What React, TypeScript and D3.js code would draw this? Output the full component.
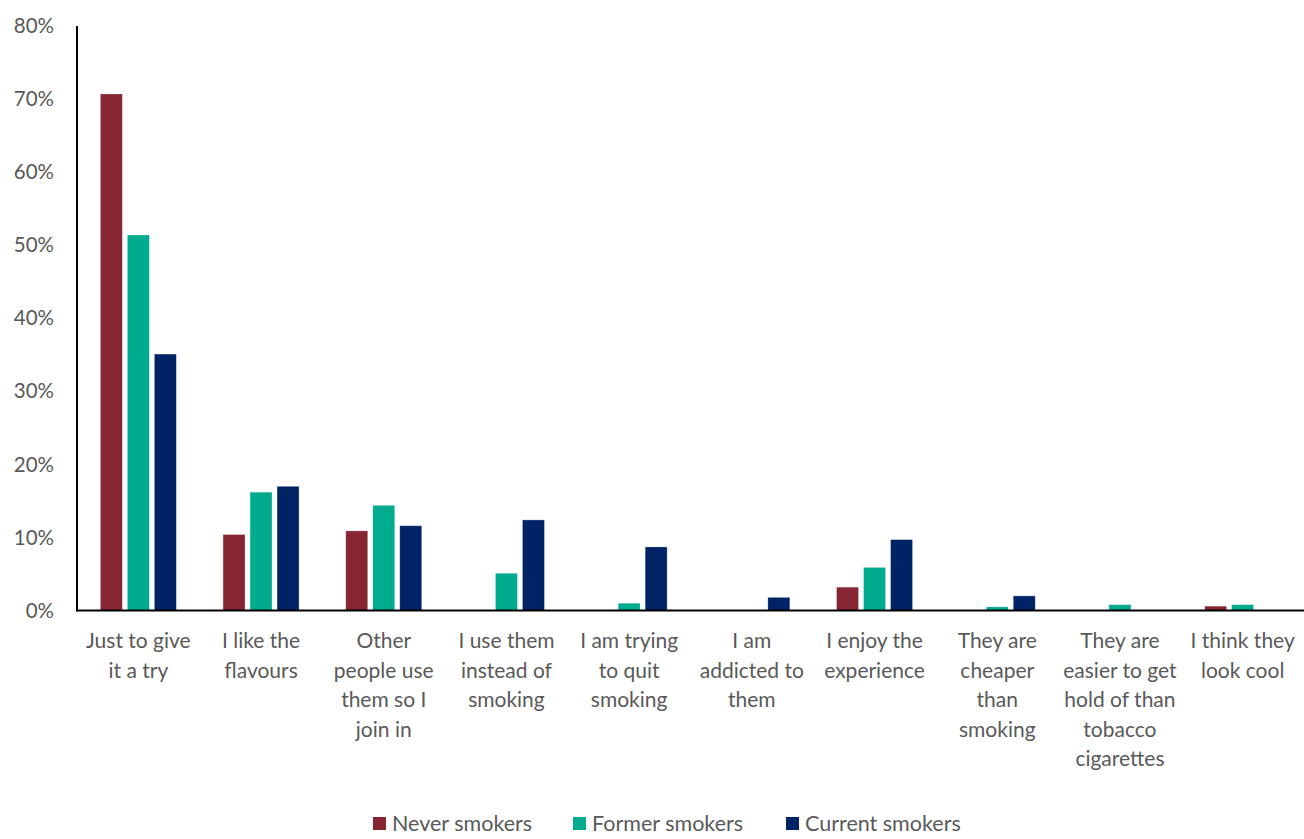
import React from "react";
import * as d3 from "d3";

const categories: string[][] = [
  ["Just to give", "it a try"],
  ["I like the", "flavours"],
  ["Other", "people use", "them so I", "join in"],
  ["I use them", "instead of", "smoking"],
  ["I am trying", "to quit", "smoking"],
  ["I am", "addicted to", "them"],
  ["I enjoy the", "experience"],
  ["They are", "cheaper", "than", "smoking"],
  ["They are", "easier to get", "hold of than", "tobacco", "cigarettes"],
  ["I think they", "look cool"],
];

const seriesNames = ["Never smokers", "Former smokers", "Current smokers"];
const seriesColors = ["#862633", "#00AB8E", "#002366"];

const neverSmokers = [70.7, 10.4, 10.9, 0, 0, 0, 3.2, 0, 0, 0.6];
const formerSmokers = [51.4, 16.2, 14.4, 5.1, 1.0, 0, 5.9, 0.5, 0.8, 0.8];
const currentSmokers = [35.1, 17.0, 11.6, 12.4, 8.7, 1.8, 9.7, 2.0, 0, 0];

const yTicks = [0, 10, 20, 30, 40, 50, 60, 70, 80];

const W = 1304;
const H = 839;
const left = 77;
const right = 1304;
const top = 26;
const bottom = 610.5;
const FONT = "Lato, 'Liberation Sans', sans-serif";

export default function App() {
  const series = [neverSmokers, formerSmokers, currentSmokers];
  const x = d3
    .scaleBand<number>()
    .domain(d3.range(categories.length))
    .range([left, right])
    .paddingInner(0)
    .paddingOuter(0);
  const y = d3.scaleLinear().domain([0, 80]).range([bottom, top]);
  const barW = 22;
  const gap = 5;
  const groupW = barW * 3 + gap * 2;

  return (
    <svg
      width={W}
      height={H}
      style={{ position: "absolute", left: 0, top: 0, background: "#fff" }}
      fontFamily={FONT}
    >
      {yTicks.map((t) => (
        <text
          key={t}
          x={54}
          y={y(t)}
          dy="0.35em"
          textAnchor="end"
          fontSize={20.5}
          fill="#595959"
        >
          {t}%
        </text>
      ))}
      {categories.map((cat, i) =>
        series.map((s, j) => {
          const v = s[i];
          if (v <= 0) return null;
          const cx = (x(i) as number) + x.bandwidth() / 2;
          const bx = cx - groupW / 2 + j * (barW + gap);
          return (
            <rect
              key={`${i}-${j}`}
              x={bx}
              y={y(v)}
              width={barW}
              height={bottom - y(v)}
              fill={seriesColors[j]}
              stroke="#ffffff"
              strokeOpacity={0.4}
              strokeWidth={0.75}
            />
          );
        })
      )}
      <line x1={left} x2={left} y1={top} y2={bottom + 1} stroke="#000" strokeWidth={2} />
      <line x1={left - 1} x2={right} y1={bottom} y2={bottom} stroke="#000" strokeWidth={2} />
      {categories.map((cat, i) => {
        const cx = (x(i) as number) + x.bandwidth() / 2;
        return (
          <text key={i} textAnchor="middle" fontSize={21} fill="#595959">
            {cat.map((line, k) => (
              <tspan key={k} x={cx} y={641 + k * 29.5} dy="0.35em">
                {line}
              </tspan>
            ))}
          </text>
        );
      })}
      {[373, 573, 786].map((lx, j) => (
        <g key={j}>
          <rect x={lx} y={817} width={13} height={13} fill={seriesColors[j]} />
          <text x={lx + 19} y={823} dy="0.35em" fontSize={21.5} fill="#595959">
            {seriesNames[j]}
          </text>
        </g>
      ))}
    </svg>
  );
}
